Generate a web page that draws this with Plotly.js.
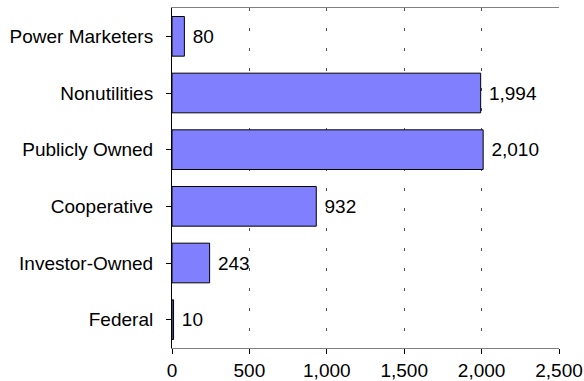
<!DOCTYPE html>
<html>
<head>
<meta charset="utf-8">
<script src="https://cdn.plot.ly/plotly-3.0.1.min.js"></script>
<style>html,body{margin:0;padding:0;background:#fff}</style>
</head>
<body>
<div id="chart" style="width:584px;height:381px"></div>
<script>
const categories = ["Federal", "Investor-Owned", "Cooperative", "Publicly Owned", "Nonutilities", "Power Marketers"];
const values = [10, 243, 932, 2010, 1994, 80];
const tickVals = [0, 500, 1000, 1500, 2000, 2500];
const tickText = ["0", "500", "1,000", "1,500", "2,000", "2,500"];

const trace = {
  type: "bar",
  orientation: "h",
  y: categories,
  x: values,
  width: 0.7,
  marker: {color: "#8080FF", line: {color: "#000000", width: 1}},
  text: values.map(v => "\u00a0" + v.toLocaleString("en-US")),
  textposition: "outside",
  cliponaxis: false,
  textfont: {family: "Liberation Sans, Arial, sans-serif", size: 19, color: "#000"},
  hoverinfo: "none"
};

const layout = {
  width: 584, height: 381,
  margin: {l: 172, r: 25, t: 8, b: 33},
  paper_bgcolor: "#fff", plot_bgcolor: "#fff",
  font: {family: "Liberation Sans, Arial, sans-serif", size: 19, color: "#000"},
  showlegend: false,
  xaxis: {
    range: [0, 2500], tickvals: tickVals, ticktext: tickText,
    showgrid: true, gridcolor: "#505050", griddash: "3px,17px", gridwidth: 1,
    zeroline: false, showline: true, linecolor: "#808080", linewidth: 1, mirror: true,
    ticks: "outside", ticklen: 5, tickcolor: "#000",
    tickfont: {size: 19}
  },
  yaxis: {
    showgrid: false, zeroline: false, showline: true, linecolor: "#000", linewidth: 1,
    ticks: "outside", ticklen: 5, tickcolor: "#000", ticklabelstandoff: 9,
    tickfont: {size: 19}
  }
};

Plotly.newPlot("chart", [trace], layout, {staticPlot: true});
</script>
</body>
</html>
